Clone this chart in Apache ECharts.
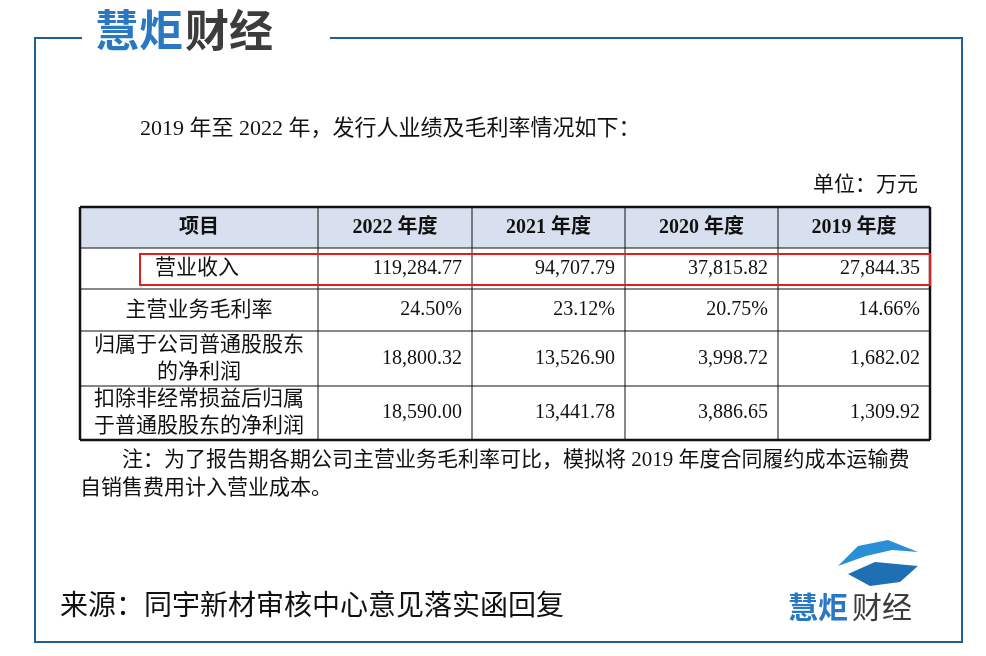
<!DOCTYPE html>
<html><head><meta charset="utf-8">
<script src="https://cdn.jsdelivr.net/npm/echarts@6/dist/echarts.min.js"></script>
<style>html,body{margin:0;padding:0;background:#fff}#main{width:986px;height:656px}</style>
</head><body><div id="main"></div>
<script>
var headers = ['项目', '2022 年度', '2021 年度', '2020 年度', '2019 年度'];
var rowNames = ['营业收入', '主营业务毛利率', '归属于公司普通股股东\n的净利润', '扣除非经常损益后归属\n于普通股股东的净利润'];
var v2022 = ['119,284.77', '24.50%', '18,800.32', '18,590.00'];
var v2021 = ['94,707.79', '23.12%', '13,526.90', '13,441.78'];
var v2020 = ['37,815.82', '20.75%', '3,998.72', '3,886.65'];
var v2019 = ['27,844.35', '14.66%', '1,682.02', '1,309.92'];

var colX = [80, 318, 472, 625, 778, 930];
var rowY = [207, 248, 289, 331, 386, 440];
var serif = '"Liberation Serif","Noto Sans CJK SC",serif';
var cjk = '"Noto Sans CJK SC",sans-serif';

var g = [];
// outer frame with gap for logo
g.push({type:'polyline', shape:{points:[[82,38],[35,38],[35,642],[962,642],[962,38],[330,38]]}, style:{stroke:'#1f5f95', lineWidth:2, fill:null}});
g.push({type:'text', x:95, y:8, style:{text:'慧炬', font:'bold 44px '+cjk, fill:'#2a78c2'}});
g.push({type:'text', x:185, y:8, style:{text:'财经', font:'bold 44px '+cjk, fill:'#3c3c3c'}});
g.push({type:'text', x:140, y:118, style:{text:'2019 年至 2022 年，发行人业绩及毛利率情况如下：', font:'22px '+serif, fill:'#111'}});
g.push({type:'text', x:918, y:175, style:{text:'单位：万元', font:'21px '+serif, fill:'#111', align:'right'}});
// header background
g.push({type:'rect', shape:{x:colX[0], y:rowY[0], width:colX[5]-colX[0], height:rowY[1]-rowY[0]}, style:{fill:'#d8e0ef'}});
// grid lines
rowY.forEach(function (y, i) {
  var w = (i === 0 || i === rowY.length - 1) ? 2.5 : 1;
  g.push({type:'line', shape:{x1:colX[0], y1:y, x2:colX[5], y2:y}, style:{stroke:'#111', lineWidth:w}});
});
colX.forEach(function (x, i) {
  var w = (i === 0 || i === colX.length - 1) ? 2.5 : 1;
  g.push({type:'line', shape:{x1:x, y1:rowY[0], x2:x, y2:rowY[5]}, style:{stroke:'#111', lineWidth:w}});
});
// header text
headers.forEach(function (h, i) {
  g.push({type:'text', x:(colX[i]+colX[i+1])/2, y:(rowY[0]+rowY[1])/2, style:{text:h, font:'bold 20px '+serif, fill:'#111', align:'center', verticalAlign:'middle'}});
});
var cols = [v2022, v2021, v2020, v2019];
rowNames.forEach(function (name, r) {
  var cy = (rowY[r+1]+rowY[r+2])/2;
  g.push({type:'text', x:r === 0 ? 155 : (colX[0]+colX[1])/2, y:cy, style:{text:name, font:'21px '+serif, fill:'#111', align:r === 0 ? 'left' : 'center', verticalAlign:'middle', lineHeight:27}});
  cols.forEach(function (c, k) {
    g.push({type:'text', x:colX[k+2]-10, y:cy, style:{text:c[r], font:'20px '+serif, fill:'#111', align:'right', verticalAlign:'middle'}});
  });
});
// red highlight
g.push({type:'rect', shape:{x:140, y:254, width:790, height:31}, style:{fill:null, stroke:'#e02020', lineWidth:2}});
g.push({type:'text', x:122, y:450, style:{text:'注：为了报告期各期公司主营业务毛利率可比，模拟将 2019 年度合同履约成本运输费', font:'21px '+serif, fill:'#111'}});
g.push({type:'text', x:80, y:478, style:{text:'自销售费用计入营业成本。', font:'21px '+serif, fill:'#111'}});
g.push({type:'text', x:60, y:590, style:{text:'来源：同宇新材审核中心意见落实函回复', font:'28px '+cjk, fill:'#111'}});
// bottom logo
g.push({type:'polygon', shape:{points:[[838,566],[858,546],[888,540],[918,552],[892,550],[866,556]]}, style:{fill:'#2a8fd6'}});
g.push({type:'polygon', shape:{points:[[848,574],[875,562],[918,566],[900,582],[870,586]]}, style:{fill:'#1f6fb5'}});
g.push({type:'text', x:788, y:592, style:{text:'慧炬', font:'bold 30px '+cjk, fill:'#2a78c2'}});
g.push({type:'text', x:852, y:592, style:{text:'财经', font:'30px '+cjk, fill:'#3c3c3c'}});

var myChart = echarts.init(document.getElementById('main'));
myChart.setOption({backgroundColor:'#fff', graphic:{elements:g}});
</script></body></html>
